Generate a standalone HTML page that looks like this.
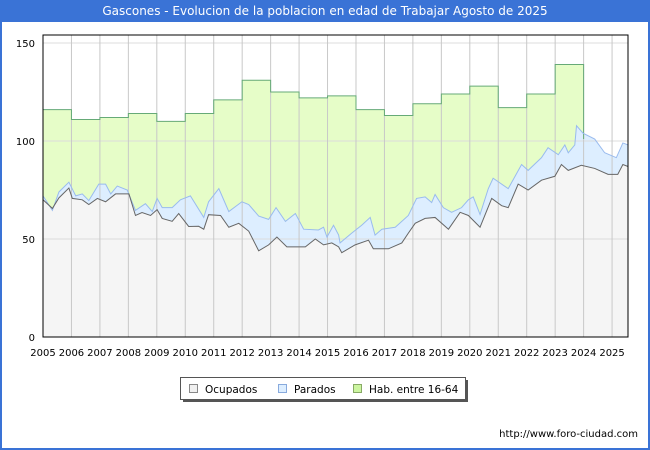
<!DOCTYPE html>
<html><head><meta charset="utf-8"><style>
body{margin:0;width:650px;height:450px;overflow:hidden;background:#fff;font-family:"DejaVu Sans","Liberation Sans",sans-serif}
#wrap{position:relative;width:646px;height:448px;border:2px solid #3a73d6;border-top:none;background:#fff}
#title{height:22px;background:#3a73d6;color:#fff;font-size:12px;text-align:center;line-height:22px}
svg{position:absolute;left:-2px;top:0}
</style></head><body>
<div id="wrap">
<div id="title">Gascones - Evolucion de la poblacion en edad de Trabajar Agosto de 2025</div>
</div>
<svg id="chart" width="650" height="450"></svg>
<script>
const habYears=[2005,2006,2007,2008,2009,2010,2011,2012,2013,2014,2015,2016,2017,2018,2019,2020,2021,2022,2023];
const habValues=[116,111,112,114,110,114,121,131,125,122,123,116,113,119,124,128,117,124,139];
const ocuDates=[2005.0,2005.33,2005.56,2005.91,2006.03,2006.38,2006.61,2006.91,2007.2,2007.55,2008.02,2008.25,2008.48,2008.78,2009.01,2009.19,2009.54,2009.77,2010.12,2010.47,2010.65,2010.82,2011.24,2011.53,2011.88,2012.23,2012.58,2012.93,2013.22,2013.57,2014.22,2014.57,2014.86,2015.15,2015.39,2015.5,2015.97,2016.44,2016.61,2017.14,2017.61,2017.84,2018.08,2018.43,2018.78,2019.25,2019.66,2019.95,2020.36,2020.77,2021.12,2021.35,2021.7,2022.05,2022.52,2022.99,2023.22,2023.46,2023.92,2024.39,2024.86,2025.2,2025.38,2025.56];
const ocuValues=[70,65.6,71,76,70.7,70,67.6,70.7,69,73,73,62,63.5,62,65,60.5,59,63,56.4,56.5,55,62.4,62,56,58,54,44,47,51,46,46,50,47,48,46,43,47,49.4,45,45,48,53,58,60.5,61,55,63.6,62,56,70.7,67,66,78,75,80,82,88,85,87.6,86,83,83,88,87];
const parDates=[2005.0,2005.33,2005.56,2005.91,2006.15,2006.38,2006.61,2006.96,2007.2,2007.38,2007.61,2007.96,2008.25,2008.6,2008.84,2009.01,2009.19,2009.54,2009.83,2010.18,2010.65,2010.82,2011.18,2011.53,2011.99,2012.23,2012.58,2012.93,2013.19,2013.52,2013.87,2014.16,2014.68,2014.86,2014.98,2015.21,2015.39,2015.44,2015.85,2016.2,2016.5,2016.67,2016.91,2017.38,2017.84,2018.13,2018.43,2018.66,2018.78,2019.07,2019.36,2019.71,2019.95,2020.12,2020.36,2020.65,2020.82,2021.35,2021.82,2022.05,2022.52,2022.75,2023.11,2023.34,2023.46,2023.69,2023.75,2023.98,2024.39,2024.74,2025.15,2025.38,2025.56];
const parValues=[72,64.6,74,79,72,73,69.6,78,78,73,77,75,64.6,68,64,70.7,66,66,70,72,61,69,75.7,64,69,67.6,61.7,60,66,59,63,55,54.6,56,51,57,52,48,53,57,61,52,55,56,62,70.7,71.5,68.6,72.7,66,63.6,66,70,71.5,62.5,75.7,81,75.7,88,85,91.5,96.6,93,98,94,98,107.8,104,101,94,91.5,99,98];
const yTicks=[0,50,100,150];
const xTicks=[2005,2006,2007,2008,2009,2010,2011,2012,2013,2014,2015,2016,2017,2018,2019,2020,2021,2022,2023,2024,2025];
const L=45,R=630,T=35,B=337,x0=2005,x1=2025.56;
const X=v=>L+(v-x0)/(x1-x0)*(R-L);
const Y=v=>B-v/150*(B-43);
const svg=document.getElementById('chart');const NS='http://www.w3.org/2000/svg';
function mk(t,a){const e=document.createElementNS(NS,t);for(const k in a)e.setAttribute(k,a[k]);svg.appendChild(e);return e;}
let e=mk('rect',{x:L,y:T,width:R-L,height:B-T,fill:'#fff'});


let hp='M'+X(2005)+','+B;
habYears.forEach((yr,i)=>{hp+=' L'+X(yr)+','+Y(habValues[i])+' L'+X(yr+1)+','+Y(habValues[i]);});
let pAt=parValues[parDates.findIndex(d=>d>=2024)];
hp+=' L'+X(2024)+','+Y(pAt)+' L'+X(2024)+','+B+' Z';
e=mk('path',{d:hp,fill:'#e6fdc8',stroke:'none'});


let hl='';habYears.forEach((yr,i)=>{hl+=(i?' L':'M')+X(yr)+','+Y(habValues[i])+' L'+X(yr+1)+','+Y(habValues[i]);});
hl+=' L'+X(2024)+','+Y(pAt);
function area(d,v){let s='M'+X(d[0])+','+B;d.forEach((t,i)=>s+=' L'+X(t)+','+Y(v[i]));return s+' L'+X(d[d.length-1])+','+B+' Z';}
function line(d,v){return d.map((t,i)=>(i?'L':'M')+X(t)+','+Y(v[i])).join(' ');}
e=mk('path',{d:area(parDates,parValues),fill:'#ddeeff'});


e=mk('path',{d:area(ocuDates,ocuValues),fill:'#f5f5f5'});


yTicks.forEach(v=>{e=mk('line',{x1:L,x2:R,y1:Y(v),y2:Y(v),stroke:'#dcdcdc','stroke-width':1});


e=mk('text',{x:37,y:Y(v)+4,'text-anchor':'end','font-size':10,fill:'#000'});e.textContent=v;

});
xTicks.forEach(v=>{if(v>2005){e=mk('line',{x1:X(v),x2:X(v),y1:T,y2:B,stroke:'#c8c8c8','stroke-width':1});

}
e=mk('text',{x:X(v),y:356,'text-anchor':'middle','font-size':10,fill:'#000'});e.textContent=v;

});
e=mk('path',{d:hl,fill:'none',stroke:'#66aa77','stroke-width':1});


e=mk('path',{d:line(parDates,parValues),fill:'none',stroke:'#99bbee','stroke-width':1});


e=mk('path',{d:line(ocuDates,ocuValues),fill:'none',stroke:'#666','stroke-width':1});


e=mk('rect',{x:L,y:T,width:R-L,height:B-T,fill:'none',stroke:'#000','stroke-width':1});


e=mk('rect',{x:185,y:380,width:285,height:22,fill:'#555'});


e=mk('rect',{x:182.5,y:377.5,width:285,height:22,fill:'#fff',stroke:'#555'});


const leg=[['Ocupados','#f0f0f0','#888',191],['Parados','#ddeeff','#88aadd',280],['Hab. entre 16-64','#ccf5a0','#88aa66',355]];
leg.forEach(l=>{e=mk('rect',{x:l[3]+0.5,y:384.5,width:8,height:8,fill:l[1],stroke:l[2]});


e=mk('text',{x:l[3]+16,y:393,'font-size':10.5,fill:'#000'});e.textContent=l[0];

});
e=mk('text',{x:640,y:437,'text-anchor':'end','font-size':10,fill:'#000'});e.textContent='http://www.foro-ciudad.com';


</script>
</body></html>
